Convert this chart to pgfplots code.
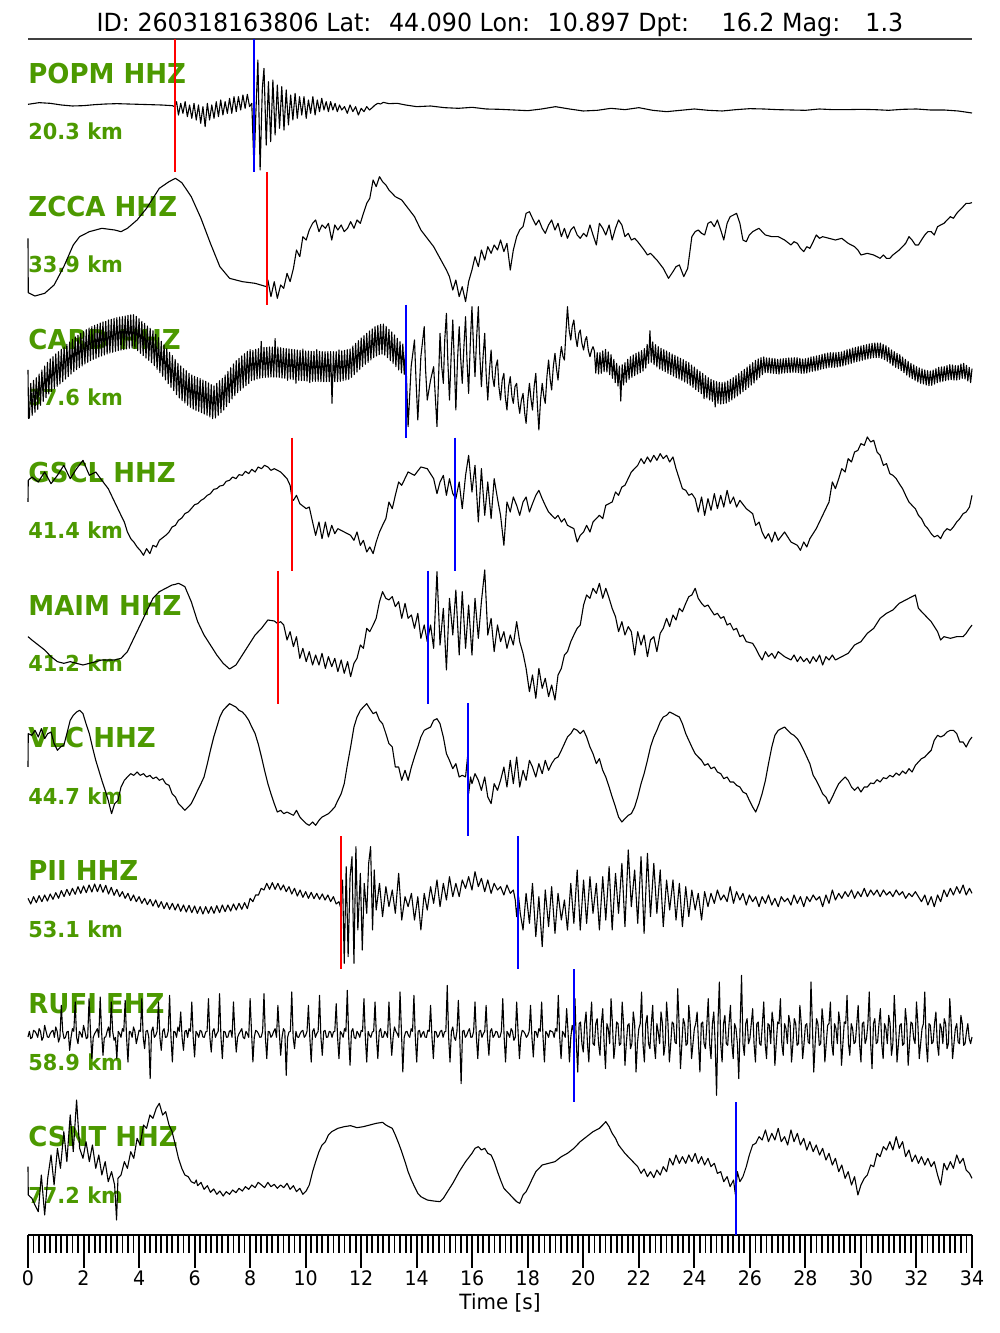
\documentclass[border=0pt]{standalone}
\usepackage{pgfplots}
\pgfplotsset{compat=1.18}
\usepackage{fontspec}
\setmainfont{DejaVu Sans}[FakeStretch=0.95]
\definecolor{lblgreen}{RGB}{76,153,0}
\definecolor{pickred}{RGB}{255,0,0}
\definecolor{pickblue}{RGB}{0,0,255}
\pgfplotsset{
  wave/.style={at={(0,#1)}, anchor=north west, width=472bp, height=70bp,
    scale only axis, xmin=0, xmax=34, ymin=0, ymax=420, y dir=reverse,
    hide axis, clip=false},
  trace/.style={black, line width=0.55bp, line join=round, mark=none},
  pr/.style={pickred, line width=0.7bp, mark=none},
  pb/.style={pickblue, line width=0.7bp, mark=none},
}
\begin{document}
\begin{tikzpicture}
\useasboundingbox (-14bp,-49bp) rectangle (486bp,617.5bp);
% title
\node[anchor=base, inner sep=0pt, font=\fontsize{12.5bp}{15bp}\selectfont] at (236bp,601.5bp)
  {ID: 260318163806 Lat:~ 44.090 Lon:~ 10.897 Dpt:~~~ 16.2 Mag:~~ 1.3};
% station labels
\tikzset{stn/.style={anchor=base west, inner sep=0pt, text=lblgreen, font=\bfseries\fontsize{13.7bp}{16bp}\selectfont},
         dst/.style={anchor=base west, inner sep=0pt, text=lblgreen, font=\bfseries\fontsize{11bp}{13bp}\selectfont}}
\node[stn] at (0bp,575.75bp) {POPM HHZ};  \node[dst] at (0bp,547.5bp) {20.3 km};
\node[stn] at (0bp,509.3bp) {ZCCA HHZ};   \node[dst] at (0bp,481.05bp) {33.9 km};
\node[stn] at (0bp,442.85bp) {CARD HHZ};  \node[dst] at (0bp,414.6bp) {37.6 km};
\node[stn] at (0bp,376.4bp) {GSCL HHZ};   \node[dst] at (0bp,348.15bp) {41.4 km};
\node[stn] at (0bp,309.95bp) {MAIM HHZ};  \node[dst] at (0bp,281.7bp) {41.2 km};
\node[stn] at (0bp,243.5bp) {VLC HHZ};    \node[dst] at (0bp,215.25bp) {44.7 km};
\node[stn] at (0bp,177.05bp) {PII HHZ};   \node[dst] at (0bp,148.8bp) {53.1 km};
\node[stn] at (0bp,110.6bp) {RUFI EHZ};   \node[dst] at (0bp,82.35bp) {58.9 km};
\node[stn] at (0bp,44.15bp) {CSNT HHZ};   \node[dst] at (0bp,15.9bp) {77.2 km};

% ---------------- time axis ----------------
\begin{axis}[at={(0,0)}, anchor=south west, width=472bp, height=598bp, scale only axis,
  xmin=0, xmax=34, ymin=0, ymax=1,
  axis x line*=bottom, axis y line=none,
  xtick={0,2,...,34}, minor x tick num=9, tick align=outside,
  major tick length=16.5bp, minor tick length=9bp,
  every tick/.style={black, line width=1bp},
  every minor tick/.append style={line width=0.9bp},
  x axis line style={line width=1bp},
  /pgf/number format/assume math mode=true,
  xticklabel style={font=\fontsize{10bp}{12bp}\selectfont, yshift=2bp},
  xlabel={Time [s]},
  xlabel style={font=\fontsize{10.5bp}{12bp}\selectfont, yshift=3bp},
]
\draw[line width=0.8bp, black!75] (rel axis cs:0,1) -- (rel axis cs:1,1);
\end{axis}

% ---------------- POPM ----------------
\begin{axis}[wave=600bp]
\addplot[trace] coordinates {
(0,208)(0.4,203)(0.8,205)(1.2,210)(1.6,213)(2.0,212)(2.4,209)(2.8,207)(3.2,206)(3.6,207)(4.0,208)(4.4,209)(4.8,210)(5.2,212)(5.28,215)
(5.35,200)(5.42,240)(5.5,205)(5.58,235)(5.66,200)(5.74,245)(5.82,210)(5.9,250)(5.98,205)(6.06,255)(6.14,210)(6.22,265)(6.3,215)(6.38,275)(6.46,205)(6.54,255)(6.62,210)(6.7,250)(6.78,200)(6.86,245)(6.94,195)(7.02,240)(7.1,200)(7.18,235)(7.26,190)(7.34,235)(7.42,185)(7.5,230)(7.58,185)(7.66,225)(7.74,180)(7.82,220)(7.9,178)(7.98,215)(8.06,205)
(8.14,400)(8.2,250)(8.28,75)(8.36,405)(8.44,160)(8.5,100)(8.58,330)(8.66,140)(8.74,320)(8.82,135)(8.9,300)(8.98,150)(9.06,280)(9.14,155)(9.22,285)(9.3,165)(9.38,270)(9.46,180)(9.54,255)(9.62,175)(9.7,250)(9.78,185)(9.86,240)(9.94,185)(10.02,250)(10.1,195)(10.18,235)(10.26,185)(10.34,240)(10.42,195)(10.5,230)(10.58,190)(10.66,225)(10.74,200)(10.82,230)(10.9,200)(10.98,225)(11.06,205)(11.14,230)(11.22,210)(11.3,225)(11.4,215)(11.5,235)(11.6,210)(11.7,230)(11.8,215)(11.9,240)(12.0,220)(12.1,230)(12.2,215)(12.3,225)(12.4,218)(12.5,210)(12.6,205)(12.7,207)(12.8,202)(13,206)(13.3,205)(13.6,210)(14,215)(14.5,213)(15,218)(15.5,220)(16,217)(16.5,222)(17,223)(17.5,225)(18,227)(18.5,222)(19,215)(19.5,222)(20,228)(20.5,226)(21,220)(21.5,224)(22,218)(22.5,226)(23,230)(23.5,226)(24,222)(24.5,226)(25,228)(25.5,224)(26,221)(26.5,222)(27,224)(27.5,225)(28,226)(28.5,222)(29,224)(29.5,224)(30,223)(30.5,224)(31,226)(31.5,223)(32,222)(32.5,225)(33,225)(33.5,228)(34,234)
};
\addplot[pr] coordinates {(5.29,12) (5.29,411)};
\addplot[pb] coordinates {(8.14,12) (8.14,411)};
\end{axis}

% ---------------- ZCCA ----------------
\begin{axis}[wave=532.5bp]
\addplot[trace] coordinates {
(0,205)(0.01,368)(0.25,378)(0.6,370)(0.94,345)(1.29,290)(1.63,225)(1.86,200)(2.21,185)(2.66,175)(3.12,180)(3.35,185)(3.58,175)(3.93,150)(4.27,115)(4.73,55)(5.08,35)(5.31,25)(5.54,38)(5.88,80)(6.23,145)(6.57,220)(6.91,290)(7.26,325)(7.72,335)(8.18,340)(8.59,350)
(8.64,330)(8.75,380)(8.87,335)(8.98,385)(9.10,345)(9.21,355)(9.33,310)(9.44,335)(9.56,295)(9.67,240)(9.79,260)(9.90,200)(10.02,210)(10.13,180)(10.25,160)(10.36,150)(10.48,185)(10.59,165)(10.71,175)(10.82,160)(10.94,210)(11.05,165)(11.16,180)(11.28,165)(11.39,185)(11.51,175)(11.62,155)(11.74,175)(11.85,150)(11.97,160)(12.08,130)(12.20,100)(12.31,85)(12.43,30)(12.54,50)(12.66,20)(12.77,35)(12.89,45)(13.00,60)(13.23,80)(13.46,90)(13.69,115)(13.92,140)(14.15,180)(14.38,205)(14.61,230)(14.84,265)(15.07,300)(15.18,320)(15.30,360)(15.41,330)(15.53,380)(15.64,350)(15.76,395)(15.87,335)(15.99,300)(16.10,260)(16.22,290)(16.33,240)(16.45,270)(16.56,230)(16.68,250)(16.79,225)(16.91,240)(17.02,210)(17.14,245)(17.25,220)(17.37,300)(17.48,240)(17.60,200)(17.71,180)(17.83,170)(17.94,130)(18.06,125)(18.17,145)(18.29,165)(18.40,150)(18.52,175)(18.63,190)(18.75,165)(18.86,150)(18.98,180)(19.09,160)(19.21,200)(19.32,175)(19.43,205)(19.55,180)(19.66,170)(19.78,195)(19.89,205)(20.01,190)(20.12,200)(20.24,165)(20.35,195)(20.47,225)(20.58,160)(20.70,175)(20.81,195)(20.93,165)(21.04,210)(21.16,175)(21.27,150)(21.39,165)(21.50,200)(21.62,190)(21.73,210)(21.85,205)(21.96,215)(22.19,240)(22.31,255)(22.42,250)(22.65,270)(22.88,295)(23.07,325)(23.23,305)(23.34,290)(23.46,285)(23.62,320)(23.76,295)(23.91,200)(24.03,185)(24.14,180)(24.26,190)(24.37,195)(24.49,160)(24.60,155)(24.72,170)(24.83,150)(24.95,180)(25.06,210)(25.18,160)(25.29,140)(25.41,135)(25.52,130)(25.64,160)(25.75,210)(25.87,215)(25.98,195)(26.10,185)(26.21,180)(26.33,175)(26.44,185)(26.56,195)(26.79,200)(27.02,200)(27.25,210)(27.48,225)(27.59,215)(27.71,220)(27.82,235)(27.94,245)(28.05,230)(28.16,235)(28.28,215)(28.39,195)(28.51,205)(28.62,200)(28.85,205)(29.08,210)(29.31,205)(29.54,220)(29.77,230)(29.89,240)(30.00,255)(30.23,250)(30.46,255)(30.69,265)(30.81,255)(30.92,265)(31.04,265)(31.15,255)(31.38,240)(31.61,220)(31.73,200)(31.84,210)(31.96,225)(32.07,225)(32.18,210)(32.30,195)(32.41,185)(32.53,185)(32.64,195)(32.76,170)(32.87,165)(32.99,160)(33.22,140)(33.33,145)(33.45,130)(33.56,120)(33.68,110)(33.79,100)(33.91,100)(34.0,98)
};
\addplot[pr] coordinates {(8.61,6) (8.61,404)};
\end{axis}

% ---------------- CARD ----------------
\begin{axis}[wave=467.5bp]
\addplot[trace] coordinates {
(0,210)(0.02,355)(0.05,354)(0.10,250)(0.15,346)(0.20,241)(0.25,337)(0.30,233)(0.35,328)(0.40,222)(0.45,316)(0.50,210)(0.55,304)(0.60,198)(0.65,293)(0.70,187)(0.75,282)(0.80,177)(0.85,274)(0.90,170)(0.95,266)
(1.00,162)(1.05,259)(1.10,155)(1.15,252)(1.20,148)(1.25,245)(1.30,141)(1.35,237)(1.40,133)(1.45,230)(1.50,126)(1.55,222)(1.60,118)(1.65,215)(1.70,111)(1.75,209)(1.80,106)(1.85,203)(1.90,100)(1.95,198)
(2.00,95)(2.05,192)(2.10,89)(2.15,187)(2.20,84)(2.25,182)(2.30,80)(2.35,178)(2.40,76)(2.45,175)(2.50,73)(2.55,171)(2.60,69)(2.65,168)(2.70,66)(2.75,165)(2.80,64)(2.85,162)(2.90,60)(2.95,159)
(3.00,58)(3.05,157)(3.10,55)(3.15,154)(3.20,53)(3.25,152)(3.30,51)(3.35,150)(3.40,50)(3.45,149)(3.50,48)(3.55,147)(3.60,46)(3.65,145)(3.70,45)(3.75,144)(3.80,44)(3.85,146)(3.90,49)(3.95,152)
(4.00,56)(4.05,160)(4.10,64)(4.15,167)(4.20,70)(4.25,174)(4.30,78)(4.35,181)(4.40,85)(4.45,188)(4.50,92)(4.55,197)(4.60,103)(4.65,208)(4.70,113)(4.75,218)(4.80,124)(4.85,229)(4.90,135)(4.95,240)
(5.00,146)(5.05,251)(5.10,157)(5.15,262)(5.20,167)(5.25,272)(5.30,178)(5.35,284)(5.40,190)(5.45,294)(5.50,198)(5.55,302)(5.60,206)(5.65,309)(5.70,212)(5.75,316)(5.80,220)(5.85,322)(5.90,225)(5.95,327)
(6.00,229)(6.05,331)(6.10,233)(6.15,334)(6.20,236)(6.25,338)(6.30,240)(6.35,342)(6.40,244)(6.45,346)(6.50,249)(6.55,351)(6.60,254)(6.65,356)(6.70,258)(6.75,354)(6.80,250)(6.85,346)(6.90,242)(6.95,338)
(7.00,235)(7.05,330)(7.10,225)(7.15,320)(7.20,214)(7.25,308)(7.30,203)(7.35,297)(7.40,192)(7.45,287)(7.50,182)(7.55,278)(7.60,175)(7.65,271)(7.70,168)(7.75,264)(7.80,161)(7.85,257)(7.90,154)(7.95,251)
(8.00,149)(8.05,242)(8.10,151)(8.15,240)(8.20,148)(8.25,237)(8.30,146)(8.35,235)(8.40,124)(8.45,233)(8.50,142)(8.55,232)(8.60,142)(8.65,232)(8.70,141)(8.75,231)(8.80,141)(8.85,231)(8.90,116)(8.95,231)
(9.00,141)(9.05,232)(9.10,143)(9.15,234)(9.20,145)(9.25,235)(9.30,146)(9.35,241)(9.40,147)(9.45,237)(9.50,148)(9.55,239)(9.60,149)(9.65,250)(9.70,150)(9.75,241)(9.80,151)(9.85,242)(9.90,147)(9.95,242)
(10.00,153)(10.05,243)(10.10,153)(10.15,248)(10.20,154)(10.25,244)(10.30,154)(10.35,244)(10.40,149)(10.45,244)(10.50,154)(10.55,245)(10.60,155)(10.65,245)(10.70,155)(10.75,245)(10.80,155)(10.85,245)(10.90,155)(10.95,310)
(11.00,155)(11.05,245)(11.10,155)(11.15,245)(11.20,150)(11.25,244)(11.30,153)(11.35,242)(11.40,151)(11.45,240)(11.50,149)(11.55,238)(11.60,147)(11.65,232)(11.70,138)(11.75,224)(11.80,130)(11.85,216)(11.90,122)(11.95,208)
(12.00,114)(12.05,200)(12.10,107)(12.15,193)(12.20,100)(12.25,187)(12.30,93)(12.35,180)(12.40,87)(12.45,173)(12.50,80)(12.55,168)(12.60,76)(12.65,164)(12.70,73)(12.75,162)(12.80,72)(12.85,165)(12.90,79)(12.95,173)
(13.00,88)(13.05,182)(13.10,96)(13.15,190)(13.20,105)(13.25,200)(13.30,115)(13.35,210)(13.40,125)(13.45,219)(13.50,132)(13.55,223)(13.60,149)
(13.69,380)(13.80,200)(13.92,120)(13.98,250)(14.04,360)(14.15,170)(14.27,80)(14.32,210)(14.38,300)(14.50,240)(14.61,200)(14.73,380)(14.84,100)(14.90,200)(14.96,250)(15.01,120)(15.07,40)(15.12,180)(15.18,300)(15.24,170)(15.30,60)(15.36,200)(15.41,330)(15.47,180)(15.53,80)(15.58,170)(15.64,250)(15.70,140)(15.76,50)(15.81,180)(15.87,280)(15.93,130)(15.99,20)(16.05,150)(16.10,230)(16.16,110)(16.22,20)(16.27,160)(16.33,260)(16.39,170)(16.45,100)(16.50,220)(16.56,300)(16.62,210)(16.68,150)(16.73,230)(16.79,260)(16.85,200)(16.91,180)(16.96,260)(17.02,300)(17.08,240)(17.14,220)(17.19,290)(17.25,330)(17.31,260)(17.37,230)(17.43,290)(17.48,310)(17.54,260)(17.60,250)(17.66,310)(17.71,340)(17.77,300)(17.83,280)(17.89,340)(17.94,370)(18.00,300)(18.06,250)(18.12,300)(18.17,330)(18.23,260)(18.29,220)(18.35,320)(18.40,390)(18.46,300)(18.52,250)(18.58,290)(18.63,310)(18.69,230)(18.75,180)(18.81,240)(18.86,270)(18.92,200)(18.98,160)(19.04,210)(19.09,240)(19.15,180)(19.21,140)(19.27,170)(19.32,180)(19.38,90)(19.43,20)(19.49,90)(19.55,120)(19.60,80)(19.66,60)(19.72,110)(19.78,140)(19.84,100)(19.89,90)(19.95,130)(20.01,150)(20.07,120)(20.12,110)(20.18,150)(20.24,170)(20.30,150)(20.35,140)
(20.40,153)(20.45,219)(20.50,158)(20.55,222)(20.60,158)(20.65,220)(20.70,153)(20.75,215)(20.80,148)(20.85,216)(20.90,156)(20.95,224)(21.00,164)(21.05,235)(21.10,178)(21.15,248)(21.20,190)(21.25,258)(21.30,198)(21.35,303)(21.40,194)(21.45,255)(21.50,188)(21.55,247)(21.60,178)(21.65,238)(21.70,170)(21.75,232)(21.80,165)(21.85,227)(21.90,160)(21.95,222)
(22.00,156)(22.05,218)(22.10,152)(22.15,213)(22.20,146)(22.25,204)(22.30,133)(22.35,190)(22.40,92)(22.45,187)(22.50,126)(22.55,194)(22.60,134)(22.65,201)(22.70,140)(22.75,207)(22.80,145)(22.85,211)(22.90,149)(22.95,215)
(23.00,153)(23.05,220)(23.10,158)(23.15,224)(23.20,162)(23.25,228)(23.30,166)(23.35,233)(23.40,171)(23.45,237)(23.50,175)(23.55,241)(23.60,179)(23.65,246)(23.70,184)(23.75,250)(23.80,188)(23.85,256)(23.90,195)(23.95,262)
(24.00,201)(24.05,269)(24.10,208)(24.15,275)(24.20,214)(24.25,281)(24.30,220)(24.35,296)(24.40,227)(24.45,294)(24.50,233)(24.55,300)(24.60,238)(24.65,304)(24.70,242)(24.75,321)(24.80,245)(24.85,310)(24.90,247)(24.95,312)
(25.00,248)(25.05,311)(25.10,246)(25.15,309)(25.20,243)(25.25,305)(25.30,238)(25.35,300)(25.40,233)(25.45,294)(25.50,227)(25.55,288)(25.60,221)(25.65,282)(25.70,214)(25.75,275)(25.80,208)(25.85,269)(25.90,201)(25.95,262)
(26.00,194)(26.05,255)(26.10,188)(26.15,249)(26.20,181)(26.25,240)(26.30,177)(26.35,232)(26.40,173)(26.45,224)(26.50,171)
(26.55,218)(26.60,174)(26.65,218)(26.70,174)(26.75,219)(26.80,175)(26.85,220)(26.90,176)(26.95,221)(27.00,178)(27.05,222)(27.10,177)(27.15,220)(27.20,176)(27.25,219)(27.30,175)(27.35,218)(27.40,174)(27.45,218)(27.50,174)(27.55,217)(27.60,173)(27.65,217)(27.70,173)(27.75,218)(27.80,175)(27.85,220)(27.90,177)(27.95,220)
(28.00,176)(28.05,219)(28.10,174)(28.15,216)(28.20,171)(28.25,214)(28.30,170)(28.35,213)(28.40,168)(28.45,211)(28.50,166)(28.55,208)(28.60,163)(28.65,206)(28.70,161)(28.75,204)(28.80,159)(28.85,202)(28.90,158)(28.95,202)
(29.00,158)(29.05,202)(29.10,158)(29.15,201)(29.20,157)(29.25,200)(29.30,156)(29.35,198)(29.40,153)(29.45,195)(29.50,149)(29.55,192)(29.60,147)(29.65,190)(29.70,144)(29.75,187)(29.80,142)(29.85,185)(29.90,140)(29.95,183)
(30.00,138)(30.05,181)(30.10,136)(30.15,179)(30.20,134)(30.25,177)(30.30,132)(30.35,175)(30.40,130)(30.45,173)(30.50,129)(30.55,173)(30.60,129)(30.65,173)(30.70,129)(30.75,175)(30.80,133)(30.85,179)(30.90,137)(30.95,184)
(31.00,143)(31.05,190)(31.10,150)(31.15,197)(31.20,155)(31.25,202)(31.30,160)(31.35,206)(31.40,164)(31.45,212)(31.50,171)(31.55,218)(31.60,178)(31.65,225)(31.70,184)(31.75,231)(31.80,190)(31.85,236)(31.90,195)(31.95,241)
(32.00,200)(32.05,246)(32.10,204)(32.15,250)(32.20,207)(32.25,252)(32.30,210)(32.35,255)(32.40,212)(32.45,257)(32.50,213)(32.55,256)(32.60,210)(32.65,252)(32.70,206)(32.75,248)(32.80,202)(32.85,246)(32.90,201)(32.95,244)
(33.00,200)(33.05,242)(33.10,197)(33.15,240)(33.20,194)(33.25,239)(33.30,195)(33.35,240)(33.40,197)(33.45,240)(33.50,196)(33.55,238)(33.60,192)(33.65,235)(33.70,190)(33.75,237)(33.80,196)(33.85,243)(33.90,202)(33.95,248)(34.00,206)
};
\addplot[pb] coordinates {(13.61,14) (13.61,413)};
\end{axis}

% ---------------- GSCL ----------------
\begin{axis}[wave=401.5bp]
\addplot[trace] coordinates {
(0,210)(0.01,145)(0.14,135)(0.37,150)(0.60,120)(0.83,155)(1.06,130)(1.29,100)(1.52,140)(1.75,110)(1.98,85)(2.21,130)(2.44,120)(2.66,145)(2.89,170)(3.12,210)(3.35,250)(3.47,270)(3.58,300)(3.70,320)(3.81,330)(3.93,345)(4.04,355)(4.16,370)(4.27,350)(4.39,365)(4.50,340)(4.62,345)(4.73,325)(4.96,310)(5.08,300)(5.19,285)(5.31,280)(5.42,265)(5.54,258)(5.65,245)(5.77,240)(5.88,230)(6.00,218)(6.11,215)(6.23,205)(6.34,200)(6.46,190)(6.57,185)(6.69,172)(6.80,170)(6.91,162)(7.03,160)(7.14,148)(7.26,145)(7.37,135)(7.49,140)(7.60,128)(7.72,130)(7.83,118)(7.95,125)(8.06,112)(8.18,120)(8.29,105)(8.41,110)(8.52,100)(8.64,105)(8.75,115)(8.87,110)(9.10,120)(9.33,140)(9.44,160)(9.51,200)(9.56,205)(9.67,190)(9.79,215)(10.02,230)(10.13,225)(10.25,270)(10.36,310)(10.48,270)(10.59,320)(10.71,270)(10.82,315)(10.94,280)(11.05,305)(11.16,290)(11.39,300)(11.62,310)(11.74,325)(11.85,300)(11.97,340)(12.08,325)(12.20,360)(12.31,345)(12.43,365)(12.54,330)(12.66,300)(12.77,280)(12.89,260)(13.00,210)(13.12,230)(13.23,190)(13.35,150)(13.46,160)(13.69,120)(13.92,130)(14.15,105)(14.38,110)(14.61,140)(14.73,185)(14.84,150)(14.96,130)(15.07,190)(15.18,140)(15.30,185)(15.41,200)(15.53,150)(15.64,230)(15.76,130)(15.87,70)(15.99,180)(16.10,100)(16.22,270)(16.33,110)(16.45,250)(16.56,150)(16.68,260)(16.79,140)(16.91,200)(17.02,250)(17.14,340)(17.25,210)(17.37,240)(17.48,195)(17.60,220)(17.71,250)(17.83,210)(17.94,195)(18.06,240)(18.17,215)(18.29,190)(18.40,175)(18.52,200)(18.63,220)(18.75,240)(18.98,260)(19.09,250)(19.21,270)(19.32,260)(19.43,280)(19.66,290)(19.78,330)(19.89,310)(20.01,300)(20.12,280)(20.24,300)(20.35,270)(20.58,250)(20.70,260)(20.81,220)(21.04,210)(21.16,180)(21.27,190)(21.39,165)(21.50,160)(21.73,120)(21.96,100)(22.08,80)(22.19,95)(22.31,75)(22.42,90)(22.54,70)(22.65,85)(22.77,65)(22.88,80)(23.00,70)(23.11,90)(23.23,75)(23.34,110)(23.57,170)(23.69,175)(23.80,190)(23.91,185)(24.03,200)(24.14,240)(24.26,195)(24.37,250)(24.49,200)(24.60,235)(24.72,185)(24.83,230)(24.95,190)(25.06,225)(25.18,175)(25.29,215)(25.41,195)(25.52,225)(25.64,205)(25.87,230)(26.10,245)(26.21,280)(26.33,270)(26.44,300)(26.56,320)(26.67,305)(26.79,330)(26.90,300)(27.02,325)(27.25,300)(27.48,330)(27.71,340)(27.82,355)(27.94,330)(28.05,345)(28.16,320)(28.39,290)(28.62,250)(28.85,210)(28.97,150)(29.08,170)(29.20,140)(29.31,110)(29.43,120)(29.54,80)(29.66,90)(29.77,60)(29.89,55)(30.00,35)(30.12,40)(30.23,15)(30.35,30)(30.46,25)(30.58,60)(30.69,70)(30.81,100)(30.92,95)(31.04,125)(31.15,130)(31.27,140)(31.38,155)(31.50,170)(31.61,190)(31.73,210)(31.84,220)(31.96,230)(32.07,250)(32.18,260)(32.30,280)(32.41,290)(32.53,305)(32.64,315)(32.76,310)(32.87,320)(32.99,300)(33.10,290)(33.22,295)(33.33,285)(33.45,270)(33.56,260)(33.68,245)(33.79,240)(33.91,225)(34.0,190)
};
\addplot[pr] coordinates {(9.51,17) (9.51,416)};
\addplot[pb] coordinates {(15.38,17) (15.38,416)};
\end{axis}

% ---------------- MAIM ----------------
\begin{axis}[wave=335bp]
\addplot[trace] coordinates {
(0,215)(0.14,225)(0.37,240)(0.60,255)(0.83,275)(1.06,290)(1.29,295)(1.52,290)(1.75,295)(1.98,300)(2.21,295)(2.44,290)(2.66,285)(2.89,285)(3.12,285)(3.35,280)(3.58,260)(3.81,220)(4.04,180)(4.27,140)(4.50,100)(4.73,80)(4.96,70)(5.19,60)(5.31,58)(5.42,55)(5.54,60)(5.65,65)(5.88,110)(6.11,170)(6.34,210)(6.57,240)(6.80,270)(7.03,295)(7.26,312)(7.49,300)(7.72,270)(7.95,240)(8.18,210)(8.41,190)(8.64,165)(8.87,168)(8.98,175)(9.10,170)(9.21,180)(9.33,225)(9.44,200)(9.56,245)(9.67,215)(9.79,280)(9.90,250)(10.02,290)(10.13,260)(10.25,300)(10.36,270)(10.48,300)(10.59,265)(10.71,310)(10.82,275)(10.94,305)(11.05,280)(11.16,320)(11.28,285)(11.39,325)(11.51,290)(11.62,335)(11.74,295)(11.85,280)(11.97,240)(12.08,250)(12.20,190)(12.31,200)(12.43,180)(12.54,160)(12.66,110)(12.77,80)(12.89,100)(13.00,105)(13.12,95)(13.23,125)(13.35,110)(13.46,160)(13.58,115)(13.69,160)(13.81,150)(13.92,190)(14.04,145)(14.15,220)(14.27,180)(14.38,230)(14.50,180)(14.61,250)(14.73,20)(14.84,240)(14.96,130)(15.07,315)(15.18,100)(15.30,210)(15.41,75)(15.53,270)(15.64,80)(15.76,250)(15.87,120)(15.99,270)(16.10,100)(16.22,220)(16.33,110)(16.45,15)(16.56,210)(16.68,160)(16.79,260)(16.91,180)(17.02,230)(17.14,200)(17.25,250)(17.37,210)(17.48,240)(17.60,170)(17.71,230)(17.83,265)(17.94,310)(18.06,380)(18.17,330)(18.29,400)(18.40,310)(18.52,370)(18.63,340)(18.75,395)(18.86,360)(18.98,405)(19.09,330)(19.21,310)(19.32,270)(19.43,260)(19.55,230)(19.66,210)(19.78,190)(19.89,180)(20.01,120)(20.12,90)(20.24,100)(20.35,70)(20.47,85)(20.58,55)(20.70,100)(20.81,70)(20.93,100)(21.04,130)(21.16,155)(21.27,200)(21.39,170)(21.50,210)(21.62,185)(21.73,200)(21.85,270)(21.96,200)(22.08,240)(22.19,210)(22.31,275)(22.42,225)(22.54,215)(22.65,260)(22.77,205)(22.88,190)(23.00,160)(23.11,185)(23.23,150)(23.34,165)(23.46,130)(23.57,140)(23.69,115)(23.80,95)(23.91,90)(24.03,70)(24.14,100)(24.26,115)(24.37,125)(24.49,120)(24.60,135)(24.72,150)(24.83,145)(24.95,160)(25.06,155)(25.18,180)(25.29,175)(25.41,195)(25.52,190)(25.64,215)(25.75,210)(25.87,230)(26.10,235)(26.21,250)(26.33,270)(26.44,285)(26.56,260)(26.67,275)(26.79,265)(26.90,280)(27.02,260)(27.25,275)(27.48,285)(27.59,270)(27.71,290)(27.82,275)(27.94,290)(28.05,280)(28.16,295)(28.28,275)(28.39,290)(28.51,270)(28.62,300)(28.74,275)(28.85,285)(28.97,270)(29.08,285)(29.31,275)(29.54,265)(29.77,240)(30.00,230)(30.23,205)(30.46,190)(30.69,160)(30.92,145)(31.15,135)(31.38,115)(31.61,105)(31.84,95)(31.96,90)(32.07,130)(32.30,150)(32.53,170)(32.76,200)(32.87,225)(32.99,215)(33.22,220)(33.45,215)(33.68,215)(33.79,205)(33.91,190)(34.0,180)
};
\addplot[pr] coordinates {(9.00,17) (9.00,416)};
\addplot[pb] coordinates {(14.41,17) (14.41,416)};
\end{axis}

% ---------------- VLC ----------------
\begin{axis}[wave=269bp]
\addplot[trace] coordinates {
(0,210)(0.01,110)(0.14,115)(0.25,100)(0.37,120)(0.48,95)(0.60,125)(0.71,110)(0.83,105)(0.94,140)(1.06,160)(1.17,150)(1.29,145)(1.40,110)(1.52,70)(1.63,55)(1.75,45)(1.86,40)(1.98,50)(2.09,80)(2.21,110)(2.32,150)(2.44,190)(2.55,220)(2.66,250)(2.78,280)(2.89,310)(3.01,350)(3.12,320)(3.24,310)(3.35,270)(3.47,250)(3.58,240)(3.70,230)(3.81,235)(3.93,225)(4.04,235)(4.16,230)(4.27,240)(4.39,235)(4.50,245)(4.62,240)(4.73,250)(4.85,245)(4.96,260)(5.08,265)(5.19,290)(5.31,300)(5.42,320)(5.54,330)(5.65,340)(5.77,330)(5.88,320)(6.00,300)(6.11,280)(6.23,260)(6.34,240)(6.46,200)(6.57,160)(6.69,120)(6.80,90)(6.91,60)(7.03,40)(7.14,30)(7.26,20)(7.37,25)(7.49,30)(7.60,40)(7.72,45)(7.83,55)(7.95,70)(8.06,90)(8.18,110)(8.29,140)(8.41,180)(8.52,220)(8.64,260)(8.75,290)(8.87,320)(8.98,345)(9.10,340)(9.21,350)(9.33,345)(9.44,350)(9.56,355)(9.67,340)(9.79,360)(9.90,370)(10.02,380)(10.13,385)(10.25,375)(10.36,385)(10.48,370)(10.59,360)(10.71,355)(10.82,350)(10.94,340)(11.05,330)(11.16,310)(11.28,290)(11.39,260)(11.51,200)(11.62,150)(11.74,90)(11.85,60)(11.97,40)(12.08,30)(12.20,20)(12.31,35)(12.43,50)(12.54,45)(12.66,70)(12.77,80)(12.89,110)(13.00,140)(13.12,150)(13.23,210)(13.35,210)(13.46,250)(13.58,220)(13.69,250)(13.81,210)(13.92,180)(14.04,150)(14.15,120)(14.27,100)(14.38,95)(14.50,90)(14.61,70)(14.73,65)(14.84,80)(14.96,120)(15.07,170)(15.18,190)(15.30,215)(15.41,200)(15.53,240)(15.64,235)(15.76,240)(15.83,180)(15.87,290)(15.94,240)(15.99,260)(16.10,230)(16.22,250)(16.33,280)(16.45,240)(16.56,300)(16.68,320)(16.79,260)(16.91,280)(17.02,250)(17.14,210)(17.25,270)(17.37,190)(17.48,260)(17.60,180)(17.71,270)(17.83,220)(17.94,250)(18.06,190)(18.17,210)(18.29,240)(18.40,200)(18.52,230)(18.63,190)(18.75,220)(18.86,200)(18.98,185)(19.09,180)(19.21,160)(19.32,140)(19.43,120)(19.55,110)(19.66,95)(19.78,100)(19.89,110)(20.01,100)(20.12,120)(20.24,150)(20.35,170)(20.47,200)(20.58,185)(20.70,220)(20.81,240)(20.93,270)(21.04,300)(21.16,330)(21.27,360)(21.39,375)(21.50,365)(21.62,355)(21.73,350)(21.85,330)(21.96,300)(22.08,260)(22.19,230)(22.31,190)(22.42,150)(22.54,120)(22.65,100)(22.77,75)(22.88,60)(23.00,55)(23.11,45)(23.23,50)(23.34,55)(23.46,60)(23.57,80)(23.69,110)(23.80,130)(23.91,150)(24.03,170)(24.14,180)(24.26,190)(24.37,205)(24.49,200)(24.60,215)(24.72,210)(24.83,225)(24.95,230)(25.06,245)(25.18,240)(25.29,255)(25.41,255)(25.52,265)(25.64,270)(25.75,285)(25.87,290)(25.98,310)(26.10,330)(26.21,345)(26.33,320)(26.44,290)(26.56,250)(26.67,200)(26.79,150)(26.90,115)(27.02,100)(27.13,95)(27.25,90)(27.36,100)(27.48,110)(27.59,115)(27.71,125)(27.82,140)(27.94,160)(28.05,180)(28.16,200)(28.28,235)(28.39,250)(28.51,270)(28.62,290)(28.74,300)(28.85,320)(28.97,300)(29.08,280)(29.20,260)(29.31,250)(29.43,240)(29.54,250)(29.66,270)(29.77,280)(29.89,270)(30.00,285)(30.12,270)(30.23,270)(30.35,258)(30.46,260)(30.58,248)(30.69,255)(30.81,242)(30.92,245)(31.04,235)(31.15,240)(31.27,228)(31.38,235)(31.50,222)(31.61,230)(31.73,215)(31.84,225)(31.96,205)(32.07,195)(32.18,185)(32.30,180)(32.41,170)(32.53,160)(32.64,130)(32.76,115)(32.87,120)(32.99,115)(33.10,105)(33.22,100)(33.33,100)(33.45,110)(33.56,135)(33.68,135)(33.79,150)(33.91,130)(34.0,120)
};
\addplot[pb] coordinates {(15.85,19) (15.85,418)};
\end{axis}

% ---------------- PII ----------------
\begin{axis}[wave=202.5bp]
\addplot[trace] coordinates {
(0,205)(0.1,222)(0.2,200)(0.3,218)(0.4,197)(0.5,215)(0.6,195)(0.7,213)(0.8,192)(0.9,208)(1.0,188)(1.1,205)(1.2,182)(1.3,200)(1.4,178)(1.5,196)(1.6,175)(1.7,193)(1.8,170)(1.9,190)(2.0,168)(2.1,188)(2.2,165)(2.3,186)(2.4,162)(2.5,185)(2.6,163)(2.7,187)(2.8,166)(2.9,192)(3.0,172)(3.1,196)(3.2,178)(3.3,200)(3.4,185)(3.5,205)(3.6,190)(3.7,212)(3.8,195)(3.9,215)(4.0,200)(4.1,220)(4.2,205)(4.3,224)(4.4,208)(4.5,228)(4.6,210)(4.7,232)(4.8,215)(4.9,236)(5.0,218)(5.1,238)(5.2,220)(5.3,240)(5.4,222)(5.5,244)(5.6,225)(5.7,246)(5.8,226)(5.9,248)(6.0,228)(6.1,250)(6.2,230)(6.3,252)(6.4,230)(6.5,250)(6.6,230)(6.7,250)(6.8,227)(6.9,248)(7.0,225)(7.1,245)(7.2,225)(7.3,243)(7.4,222)(7.5,240)(7.6,220)(7.7,238)(7.8,218)(7.9,236)(8.0,205)(8.1,215)(8.2,195)(8.3,195)(8.4,175)(8.5,180)(8.6,160)(8.7,178)(8.8,158)(8.9,178)(9.0,160)(9.1,180)(9.2,165)(9.3,185)(9.4,170)(9.5,192)(9.6,175)(9.7,198)(9.8,180)(9.9,202)(10.0,185)(10.1,205)(10.2,187)(10.3,206)(10.4,190)(10.5,208)(10.6,192)(10.7,210)(10.8,195)(10.9,215)(11.0,200)(11.1,222)(11.2,215)(11.25,230)
(11.33,150)(11.39,400)(11.46,110)(11.53,380)(11.60,140)(11.67,80)(11.74,400)(11.81,50)(11.88,300)(11.97,130)(12.04,360)(12.11,160)(12.20,250)(12.27,100)(12.34,50)(12.41,300)(12.47,120)(12.54,240)(12.66,160)(12.77,260)(12.89,170)(13.00,230)(13.12,180)(13.23,250)(13.35,130)(13.46,270)(13.58,200)(13.69,230)(13.81,190)(13.92,270)(14.04,200)(14.15,300)(14.27,190)(14.38,240)(14.50,170)(14.61,220)(14.73,150)(14.84,230)(14.96,160)(15.07,210)(15.18,140)(15.30,200)(15.41,160)(15.53,200)(15.64,150)(15.76,175)(15.87,140)(15.99,180)(16.10,125)(16.22,170)(16.33,145)(16.45,185)(16.56,150)(16.68,190)(16.79,160)(16.91,180)(17.02,170)(17.14,195)(17.25,165)(17.37,190)(17.48,180)(17.55,210)(17.60,260)(17.67,200)(17.73,250)(17.83,300)(17.94,190)(18.06,280)(18.17,160)(18.29,320)(18.40,200)(18.52,350)(18.63,180)(18.75,290)(18.86,170)(18.98,310)(19.09,190)(19.21,270)(19.32,210)(19.43,300)(19.55,160)(19.66,280)(19.78,120)(19.89,300)(20.01,150)(20.12,280)(20.24,140)(20.35,250)(20.47,160)(20.58,300)(20.70,140)(20.81,270)(20.93,110)(21.04,300)(21.16,130)(21.27,250)(21.39,100)(21.50,290)(21.62,60)(21.73,230)(21.85,120)(21.96,280)(22.08,80)(22.19,310)(22.31,70)(22.42,260)(22.54,100)(22.65,250)(22.77,120)(22.88,290)(23.00,150)(23.11,240)(23.23,150)(23.34,270)(23.46,160)(23.57,290)(23.69,170)(23.80,260)(23.91,180)(24.03,240)(24.14,190)(24.26,270)(24.37,185)(24.49,230)(24.60,190)(24.72,220)(24.83,180)(24.95,210)(25.06,195)(25.18,215)(25.29,170)(25.41,220)(25.52,185)(25.64,210)(25.75,190)(25.87,225)(25.98,195)(26.10,215)(26.21,200)(26.33,230)(26.44,200)(26.56,220)(26.67,195)(26.79,225)(26.90,205)(27.02,230)(27.13,200)(27.25,215)(27.36,205)(27.48,225)(27.59,195)(27.71,220)(27.82,200)(27.94,230)(28.05,200)(28.16,215)(28.28,195)(28.39,210)(28.51,200)(28.62,230)(28.74,195)(28.85,220)(28.97,180)(29.08,210)(29.20,190)(29.31,205)(29.43,185)(29.54,200)(29.66,180)(29.77,205)(29.89,185)(30.00,200)(30.12,175)(30.23,200)(30.35,180)(30.46,195)(30.58,180)(30.69,200)(30.81,180)(30.92,195)(31.04,185)(31.15,200)(31.27,180)(31.38,195)(31.50,185)(31.61,205)(31.73,190)(31.84,200)(31.96,185)(32.07,200)(32.18,215)(32.30,195)(32.41,225)(32.53,200)(32.64,230)(32.76,195)(32.87,215)(32.99,180)(33.10,200)(33.22,175)(33.33,195)(33.45,170)(33.56,190)(33.68,165)(33.79,195)(33.91,175)(34.0,190)
};
\addplot[pr] coordinates {(11.27,19) (11.27,418)};
\addplot[pb] coordinates {(17.65,19) (17.65,418)};
\end{axis}

% ---------------- RUFI ----------------
\begin{axis}[wave=136.5bp]
\addplot[trace] coordinates {
(0.0,225)(0.05,208)(0.1,230)(0.15,226)(0.2,205)(0.25,208)(0.3,215)(0.35,226)(0.4,200)(0.45,208)(0.5,235)(0.55,226)(0.6,190)(0.65,208)(0.7,225)(0.75,226)(0.8,215)(0.85,208)(0.9,205)(0.95,226)
(1.0,195)(1.05,208)(1.1,240)(1.15,226)(1.2,130)(1.25,208)(1.3,230)(1.35,226)(1.4,210)(1.45,208)(1.5,265)(1.55,226)(1.6,200)(1.65,208)(1.7,120)(1.75,226)(1.8,245)(1.85,208)(1.9,215)(1.95,226)
(2.0,190)(2.05,208)(2.1,230)(2.15,226)(2.2,110)(2.25,208)(2.3,290)(2.35,226)(2.4,215)(2.45,208)(2.5,200)(2.55,226)(2.6,105)(2.65,208)(2.7,280)(2.75,226)(2.8,225)(2.85,208)(2.9,195)(2.95,226)
(3.0,120)(3.05,208)(3.1,235)(3.15,226)(3.2,290)(3.25,208)(3.3,215)(3.35,226)(3.4,200)(3.45,208)(3.5,115)(3.55,226)(3.6,300)(3.65,208)(3.7,210)(3.75,226)(3.8,195)(3.85,208)(3.9,245)(3.95,226)
(4.0,205)(4.05,208)(4.1,110)(4.15,226)(4.2,260)(4.25,208)(4.3,205)(4.35,226)(4.4,350)(4.45,208)(4.5,195)(4.55,226)(4.6,220)(4.65,208)(4.7,120)(4.75,226)(4.8,265)(4.85,208)(4.9,200)(4.95,226)
(5.0,225)(5.05,208)(5.1,100)(5.15,226)(5.2,300)(5.25,208)(5.3,210)(5.35,226)(5.4,195)(5.45,208)(5.5,150)(5.55,226)(5.6,265)(5.65,208)(5.7,205)(5.75,226)(5.8,200)(5.85,208)(5.9,120)(5.95,226)
(6.0,285)(6.05,208)(6.1,215)(6.15,226)(6.2,205)(6.25,208)(6.3,225)(6.35,226)(6.4,210)(6.45,208)(6.5,110)(6.55,226)(6.6,270)(6.65,208)(6.7,200)(6.75,226)(6.8,215)(6.85,208)(6.9,95)(6.95,226)
(7.0,290)(7.05,208)(7.1,210)(7.15,226)(7.2,225)(7.25,208)(7.3,205)(7.35,226)(7.4,120)(7.45,208)(7.5,270)(7.55,226)(7.6,215)(7.65,208)(7.7,200)(7.75,226)(7.8,230)(7.85,208)(7.9,215)(7.95,226)
(8.0,110)(8.05,208)(8.1,300)(8.15,226)(8.2,205)(8.25,208)(8.3,215)(8.35,226)(8.4,225)(8.45,208)(8.5,95)(8.55,226)(8.6,290)(8.65,208)(8.7,210)(8.75,226)(8.8,220)(8.85,208)(8.9,200)(8.95,226)
(9.0,130)(9.05,208)(9.1,280)(9.15,226)(9.2,200)(9.25,208)(9.3,340)(9.35,226)(9.4,210)(9.45,208)(9.5,90)(9.55,226)(9.6,260)(9.65,208)(9.7,225)(9.75,226)(9.8,215)(9.85,208)(9.9,205)(9.95,226)
(10.0,220)(10.05,208)(10.1,130)(10.15,226)(10.2,300)(10.25,208)(10.3,200)(10.35,226)(10.4,215)(10.45,208)(10.5,100)(10.55,226)(10.6,280)(10.65,208)(10.7,205)(10.75,226)(10.8,225)(10.85,208)(10.9,210)(10.95,226)
(11.0,210)(11.05,208)(11.1,125)(11.15,226)(11.2,290)(11.25,208)(11.3,215)(11.35,226)(11.4,200)(11.45,208)(11.5,85)(11.55,226)(11.6,310)(11.65,208)(11.7,200)(11.75,226)(11.8,230)(11.85,208)(11.9,215)(11.95,226)
(12.0,205)(12.05,208)(12.1,110)(12.15,226)(12.2,300)(12.25,208)(12.3,220)(12.35,226)(12.4,210)(12.45,208)(12.5,120)(12.55,226)(12.6,290)(12.65,208)(12.7,200)(12.75,226)(12.8,225)(12.85,208)(12.9,215)(12.95,226)
(13.0,120)(13.05,208)(13.1,280)(13.15,226)(13.2,195)(13.25,208)(13.3,215)(13.35,226)(13.4,90)(13.45,208)(13.5,330)(13.55,226)(13.6,210)(13.65,208)(13.7,220)(13.75,226)(13.8,200)(13.85,208)(13.9,100)(13.95,226)
(14.0,300)(14.05,208)(14.1,205)(14.15,226)(14.2,215)(14.25,208)(14.3,225)(14.35,226)(14.4,205)(14.45,208)(14.5,130)(14.55,226)(14.6,290)(14.65,208)(14.7,210)(14.75,226)(14.8,220)(14.85,208)(14.9,205)(14.95,226)
(15.0,210)(15.05,208)(15.1,70)(15.15,226)(15.2,300)(15.25,208)(15.3,195)(15.35,226)(15.4,235)(15.45,208)(15.5,115)(15.55,226)(15.6,365)(15.65,208)(15.7,205)(15.75,226)(15.8,220)(15.85,208)(15.9,200)(15.95,226)
(16.0,225)(16.05,208)(16.1,120)(16.15,226)(16.2,290)(16.25,208)(16.3,205)(16.35,226)(16.4,215)(16.45,208)(16.5,130)(16.55,226)(16.6,280)(16.65,208)(16.7,200)(16.75,226)(16.8,220)(16.85,208)(16.9,210)(16.95,226)
(17.0,225)(17.05,208)(17.1,110)(17.15,226)(17.2,300)(17.25,208)(17.3,215)(17.35,226)(17.4,200)(17.45,208)(17.5,235)(17.55,226)(17.6,120)(17.65,208)(17.7,290)(17.75,226)(17.8,205)(17.85,208)(17.9,215)(17.95,226)
(18.0,220)(18.05,208)(18.1,130)(18.15,226)(18.2,285)(18.25,208)(18.3,210)(18.35,226)(18.4,200)(18.45,208)(18.5,120)(18.55,226)(18.6,300)(18.65,208)(18.7,215)(18.75,226)(18.8,205)(18.85,208)(18.9,210)(18.95,226)
(19.0,200)(19.05,208)(19.1,100)(19.15,226)(19.2,290)(19.25,208)(19.3,215)(19.35,226)(19.4,140)(19.45,208)(19.5,300)(19.55,226)(19.6,190)(19.65,208)
(19.7,110)(19.75,245)(19.8,330)(19.85,185)(19.9,180)(19.95,245)
(20.0,270)(20.05,185)(20.1,150)(20.15,245)(20.2,300)(20.25,185)(20.3,120)(20.35,245)(20.4,250)(20.45,185)(20.5,170)(20.55,245)(20.6,280)(20.65,185)(20.7,140)(20.75,245)(20.8,320)(20.85,185)(20.9,200)(20.95,245)
(21.0,110)(21.05,185)(21.1,290)(21.15,245)(21.2,180)(21.25,185)(21.3,250)(21.35,245)(21.4,120)(21.45,185)(21.5,310)(21.55,245)(21.6,190)(21.65,185)(21.7,260)(21.75,245)(21.8,150)(21.85,185)(21.9,330)(21.95,245)
(22.0,200)(22.05,185)(22.1,90)(22.15,245)(22.2,300)(22.25,185)(22.3,160)(22.35,245)(22.4,260)(22.45,185)(22.5,130)(22.55,245)(22.6,290)(22.65,185)(22.7,210)(22.75,245)(22.8,150)(22.85,185)(22.9,280)(22.95,245)
(23.0,120)(23.05,185)(23.1,300)(23.15,245)(23.2,180)(23.25,185)(23.3,240)(23.35,245)(23.4,80)(23.45,185)(23.5,320)(23.55,245)(23.6,170)(23.65,185)(23.7,250)(23.75,245)(23.8,130)(23.85,185)(23.9,290)(23.95,245)
(24.0,200)(24.05,185)(24.1,150)(24.15,245)(24.2,330)(24.25,185)(24.3,180)(24.35,245)(24.4,260)(24.45,185)(24.5,110)(24.55,245)(24.6,290)(24.65,185)(24.7,150)(24.75,245)(24.8,400)(24.85,185)(24.9,60)(24.95,245)
(25.0,300)(25.05,185)(25.1,160)(25.15,245)(25.2,250)(25.25,185)(25.3,130)(25.35,245)(25.4,290)(25.45,185)(25.5,200)(25.55,245)(25.6,350)(25.65,185)(25.7,40)(25.75,245)(25.8,280)(25.85,185)(25.9,170)(25.95,245)
(26.0,230)(26.05,185)(26.1,140)(26.15,245)(26.2,300)(26.25,185)(26.3,180)(26.35,245)(26.4,250)(26.45,185)(26.5,120)(26.55,245)(26.6,290)(26.65,185)(26.7,190)(26.75,245)(26.8,150)(26.85,185)(26.9,310)(26.95,245)
(27.0,180)(27.05,185)(27.1,110)(27.15,245)(27.2,280)(27.25,185)(27.3,200)(27.35,245)(27.4,160)(27.45,185)(27.5,300)(27.55,245)(27.6,170)(27.65,185)(27.7,250)(27.75,245)(27.8,130)(27.85,185)(27.9,290)(27.95,245)
(28.0,190)(28.05,185)(28.1,240)(28.15,245)(28.2,60)(28.25,185)(28.3,330)(28.35,245)(28.4,170)(28.45,185)(28.5,250)(28.55,245)(28.6,140)(28.65,185)(28.7,300)(28.75,245)(28.8,190)(28.85,185)(28.9,120)(28.95,245)
(29.0,280)(29.05,185)(29.1,200)(29.15,245)(29.2,150)(29.25,185)(29.3,310)(29.35,245)(29.4,180)(29.45,185)(29.5,100)(29.55,245)(29.6,280)(29.65,185)(29.7,200)(29.75,245)(29.8,240)(29.85,185)(29.9,130)(29.95,245)
(30.0,300)(30.05,185)(30.1,180)(30.15,245)(30.2,230)(30.25,185)(30.3,90)(30.35,245)(30.4,320)(30.45,185)(30.5,170)(30.55,245)(30.6,240)(30.65,185)(30.7,140)(30.75,245)(30.8,290)(30.85,185)(30.9,200)(30.95,245)
(31.0,160)(31.05,185)(31.1,280)(31.15,245)(31.2,100)(31.25,185)(31.3,300)(31.35,245)(31.4,190)(31.45,185)(31.5,250)(31.55,245)(31.6,140)(31.65,185)(31.7,310)(31.75,245)(31.8,180)(31.85,185)(31.9,230)(31.95,245)
(32.0,120)(32.05,185)(32.1,290)(32.15,245)(32.2,200)(32.25,185)(32.3,90)(32.35,245)(32.4,300)(32.45,185)(32.5,190)(32.55,245)(32.6,240)(32.65,185)(32.7,150)(32.75,245)(32.8,280)(32.85,185)(32.9,200)(32.95,245)
(33.0,170)(33.05,185)(33.1,260)(33.15,245)(33.2,110)(33.25,185)(33.3,290)(33.35,245)(33.4,200)(33.45,185)(33.5,240)(33.55,245)(33.6,160)(33.65,185)(33.7,250)(33.75,245)(33.8,210)(33.85,185)(33.9,230)(33.95,245)(34.0,225)
};
\addplot[pb] coordinates {(19.67,22) (19.67,421)};
\end{axis}

% ---------------- CSNT ----------------
\begin{axis}[wave=70bp]
\addplot[trace] coordinates {
(0,215)(0.01,300)(0.14,310)(0.25,330)(0.37,350)(0.48,240)(0.60,360)(0.71,250)(0.83,180)(0.94,270)(1.06,160)(1.17,220)(1.29,110)(1.40,200)(1.52,60)(1.63,170)(1.75,15)(1.86,160)(1.98,190)(2.09,140)(2.21,200)(2.32,150)(2.44,220)(2.55,180)(2.66,240)(2.78,200)(2.89,260)(3.01,230)(3.12,270)(3.19,375)(3.24,250)(3.35,240)(3.47,200)(3.58,220)(3.70,170)(3.81,190)(3.93,130)(4.04,150)(4.16,90)(4.27,100)(4.39,60)(4.50,70)(4.62,40)(4.73,25)(4.85,60)(4.96,50)(5.08,90)(5.19,110)(5.31,150)(5.42,190)(5.54,220)(5.65,240)(5.77,245)(5.88,260)
(6.00,265)(6.06,255)(6.11,272)(6.23,262)(6.34,283)(6.46,272)(6.57,292)(6.69,282)(6.80,298)(6.91,288)(7.03,303)(7.14,290)(7.26,298)(7.37,285)(7.49,293)(7.60,280)(7.72,288)(7.83,275)(7.95,283)(8.06,270)(8.18,278)(8.29,262)(8.41,270)(8.52,278)(8.64,262)(8.75,275)(8.87,268)(8.98,280)(9.10,270)(9.21,278)(9.33,265)(9.44,283)(9.56,272)(9.67,290)(9.79,280)(9.90,298)(10.02,288)
(10.13,270)(10.25,230)(10.36,200)(10.48,170)(10.59,150)(10.71,140)(10.82,120)(10.94,110)(11.16,100)(11.39,95)(11.62,92)(11.85,98)(12.08,95)(12.31,90)(12.54,85)(12.77,82)(12.89,90)(13.00,95)(13.12,100)(13.23,120)(13.35,145)(13.46,170)(13.58,200)(13.69,230)(13.81,255)(13.92,275)(14.04,295)(14.15,305)(14.38,315)(14.61,318)(14.84,320)(14.96,310)(15.07,295)(15.30,265)(15.53,230)(15.76,200)(15.99,175)(16.10,160)(16.22,155)(16.33,165)(16.45,160)(16.56,175)(16.68,180)(16.79,200)(16.91,230)(17.02,255)(17.14,280)(17.37,300)(17.48,310)(17.60,320)(17.71,325)(17.83,300)(17.94,290)(18.06,270)(18.17,250)(18.29,230)(18.52,210)(18.75,205)(18.98,200)(19.21,185)(19.43,175)(19.66,160)(19.89,140)(20.12,125)(20.35,110)(20.58,100)(20.70,90)(20.81,80)(20.93,95)(21.04,115)(21.16,130)(21.27,150)(21.50,175)(21.73,195)
(21.96,215)(22.08,235)(22.19,222)(22.31,245)(22.42,230)(22.54,248)(22.65,225)(22.77,240)(22.88,215)(23.00,230)(23.11,190)(23.23,210)(23.34,180)(23.46,205)(23.57,185)(23.69,205)(23.80,180)(23.91,200)(24.03,175)(24.14,205)(24.26,185)(24.37,210)(24.49,190)(24.60,215)(24.72,205)(24.83,235)(24.95,230)(25.06,260)(25.18,245)(25.29,275)(25.41,255)(25.48,300)(25.55,230)(25.64,260)(25.75,245)(25.87,215)(25.98,180)(26.10,150)(26.21,145)(26.33,125)(26.44,135)(26.56,105)(26.67,140)(26.79,115)(26.90,135)(27.02,100)(27.13,140)(27.25,125)(27.36,150)(27.48,105)(27.59,140)(27.71,115)(27.82,150)(27.94,130)(28.05,165)(28.16,140)(28.28,170)(28.39,150)(28.51,180)(28.62,160)(28.74,195)(28.85,175)(28.97,210)(29.08,190)(29.20,230)(29.31,210)(29.43,250)(29.54,230)(29.66,270)(29.77,245)(29.89,300)(30.00,270)(30.12,250)(30.23,240)(30.35,210)(30.46,215)(30.58,175)(30.69,185)(30.81,155)(30.92,165)(31.04,140)(31.15,165)(31.27,125)(31.38,160)(31.50,140)(31.61,185)(31.73,165)(31.84,200)(31.96,180)(32.07,205)(32.18,185)(32.30,210)(32.41,190)(32.53,215)(32.64,200)(32.76,240)(32.87,270)(32.99,205)(33.10,225)(33.22,200)(33.33,220)(33.45,180)(33.56,205)(33.68,190)(33.79,225)(33.91,235)(34.0,250)
};
\addplot[pb] coordinates {(25.50,22) (25.50,421)};
\end{axis}
\end{tikzpicture}
\end{document}
